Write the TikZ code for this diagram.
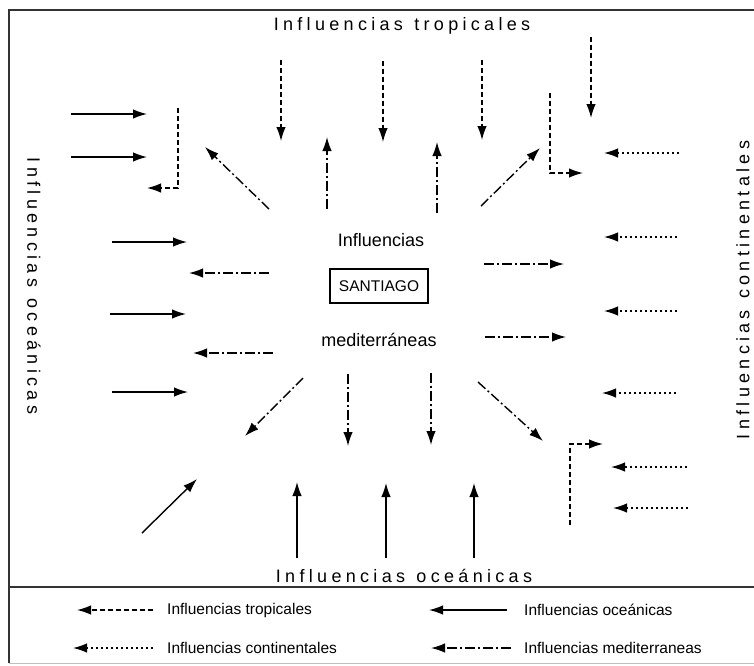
\documentclass[tikz,border=0pt]{standalone}
\usepackage{fontspec}
\setmainfont{Liberation Sans}
\newfontfamily\spaced[LetterSpace=24]{Liberation Sans}
\usetikzlibrary{arrows.meta}
\tikzset{
  arr/.style={line width=1.4pt, -{Latex[length=14pt,width=9.5pt]}},
  oce/.style={arr},
  tro/.style={arr, dash pattern=on 5pt off 3pt},
  con/.style={arr, dash pattern=on 2.5pt off 2.5pt},
  med/.style={arr, dash pattern=on 10pt off 3pt on 2pt off 3pt},
  frame/.style={line width=1.5pt, draw=black!80},
  big/.style={font=\fontsize{18}{20}\selectfont\spaced, inner sep=0pt},
  mid/.style={font=\fontsize{18}{20}\selectfont, inner sep=0pt},
  leg/.style={font=\fontsize{15.5}{17}\selectfont, inner sep=0pt, anchor=west}
}
\newcommand\arw[4]{\coordinate (#2s) at (#3); \coordinate (#2e) at (#4); \draw[#1] (#2s) -- (#2e);}
\newcommand\wsp{\ \hspace{2pt}}
\begin{document}
\begin{tikzpicture}[x=1pt,y=-1pt]
\useasboundingbox (0,0) rectangle (754,665);
% frame
\coordinate (fTL) at (9,10); \coordinate (fTR) at (754,10);
\coordinate (fBL) at (9,663); \coordinate (fBR) at (754,663);
\coordinate (dL) at (9,587); \coordinate (dR) at (754,587);
\draw[frame] (fTR) -- (fTL) -- (fBL);
\draw[frame] (dL) -- (dR);
\draw[line width=0.8pt, draw=black!25] (fBL) -- (fBR);
% titles
\node[big] (tTop) at (402,26) {Influencias\wsp{}tropicales};
\node[big] (tBot) at (404,576) {Influencias\wsp{}oceánicas};
\node[big, rotate=-90] (tLeft) at (34,286) {Influencias\wsp{}oceánicas};
\node[big, rotate=90] (tRight) at (743,290) {Influencias\wsp{}continentales};
% centre
\node[mid] (cInf) at (381,240) {Influencias};
\node[draw, line width=1.2pt, minimum width=98pt, minimum height=34pt, inner sep=0pt,
      font=\fontsize{15.5}{17}\selectfont] (stgo) at (379,286) {SANTIAGO};
\node[mid] (cMed) at (379,340) {mediterráneas};
% oceanic (solid)
\arw{oce}{o1}{71,114}{147,114}
\arw{oce}{o2}{71,157}{147,157}
\arw{oce}{o3}{112,242}{187,242}
\arw{oce}{o4}{110,314}{186,314}
\arw{oce}{o5}{112,392}{188,392}
\arw{oce}{o6}{142,533}{197,479}
\arw{oce}{o7}{297,558}{297,482}
\arw{oce}{o8}{386,558}{386,483}
\arw{oce}{o9}{474,558}{474,483}
% tropical (dashed)
\arw{tro}{t1}{281,60}{281,141}
\arw{tro}{t2}{383,61}{383,142}
\arw{tro}{t3}{482,60}{482,140}
\arw{tro}{t4}{591,37}{591,118}
\coordinate (e1a) at (178,108); \coordinate (e1b) at (178,188); \coordinate (e1c) at (147,188);
\draw[tro] (e1a) -- (e1b) -- (e1c);
\coordinate (e2a) at (550,93); \coordinate (e2b) at (550,173); \coordinate (e2c) at (583,173);
\draw[tro] (e2a) -- (e2b) -- (e2c);
\coordinate (e3a) at (570,525); \coordinate (e3b) at (570,444); \coordinate (e3c) at (603,444);
\draw[tro] (e3a) -- (e3b) -- (e3c);
% continental (dotted)
\arw{con}{c1}{679,153}{604,153}
\arw{con}{c2}{677,237}{604,237}
\arw{con}{c3}{677,311}{604,311}
\arw{con}{c4}{676,393}{602,393}
\arw{con}{c5}{687,467}{611,467}
\arw{con}{c6}{688,508}{613,508}
% mediterranean (dash-dot)
\arw{med}{m1}{269,209}{205,147}
\arw{med}{m2}{327,209}{327,137}
\arw{med}{m3}{437,213}{437,142}
\arw{med}{m4}{481,206}{540,148}
\arw{med}{m5}{269,273}{189,273}
\arw{med}{m6}{273,353}{193,353}
\arw{med}{m7}{484,264}{564,264}
\arw{med}{m8}{485,337}{566,337}
\arw{med}{m9}{303,378}{245,436}
\arw{med}{m10}{348,374}{348,446}
\arw{med}{m11}{431,373}{431,445}
\arw{med}{m12}{478,382}{543,441}
% legend
\arw{tro}{l1}{153,610}{77,610}
\node[leg] (lt1) at (167,610) {Influencias tropicales};
\arw{con}{l2}{153,648}{73,648}
\node[leg] (lt2) at (167,648) {Influencias continentales};
\arw{oce}{l3}{507,610}{429,610}
\node[leg] (lt3) at (524,610) {Influencias oceánicas};
\arw{med}{l4}{511,648}{431,648}
\node[leg] (lt4) at (524,648) {Influencias mediterraneas};
\end{tikzpicture}
\end{document}
